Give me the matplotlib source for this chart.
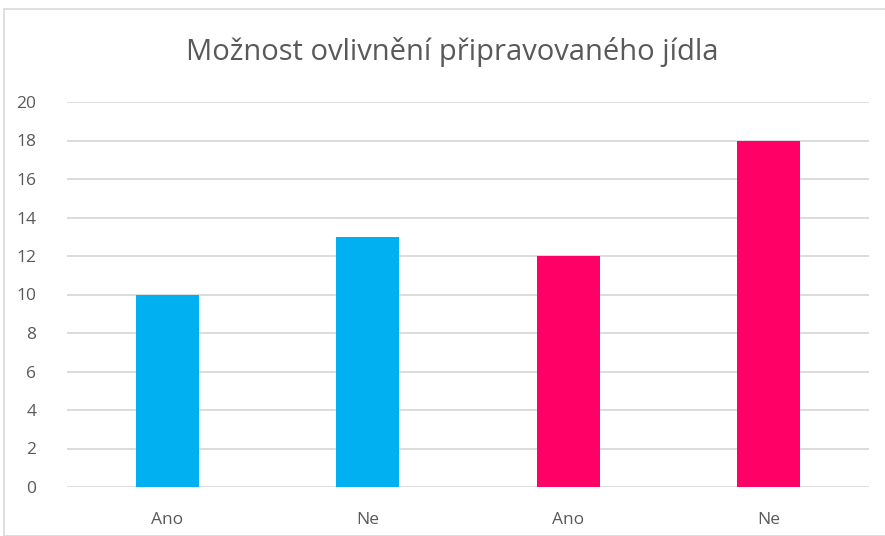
import matplotlib.pyplot as plt
from matplotlib.patches import Rectangle

kategorie = ['Ano', 'Ne', 'Ano', 'Ne']
hodnoty = [10, 13, 12, 18]
barvy = ['#00B0F0', '#00B0F0', '#FF0066', '#FF0066']
yticky = list(range(0, 21, 2))

W, H = 885, 536
fig = plt.figure(figsize=(W / 100, H / 100), dpi=100)
plt.rcParams['font.family'] = ['Open Sans', 'DejaVu Sans']

# ramecek grafu
fig.patches.append(Rectangle((4 / W, 0), (W + 10) / W, (H - 9) / H, transform=fig.transFigure,
                             fill=False, edgecolor='#D9D9D9', linewidth=1.2))

ax = fig.add_axes([67 / W, (H - 487) / H, (869 - 67) / W, (487 - 102) / H])
x = range(len(kategorie))
ax.bar(x, hodnoty, width=0.315, color=barvy, zorder=3)

ax.set_xlim(-0.5, len(kategorie) - 0.5)
ax.set_ylim(0, 20)
ax.set_yticks(yticky)
ax.set_xticks(list(x))
ax.set_xticklabels(kategorie)
ax.grid(axis='y', color='#D9D9D9', linewidth=1.3, zorder=0)
ax.set_axisbelow(True)
for s in ax.spines.values():
    s.set_visible(False)
ax.tick_params(axis='both', length=0, labelsize=12.5, labelcolor='#595959')
ax.tick_params(axis='y', pad=22)
ax.tick_params(axis='x', pad=18)

fig.text(452 / W, 1 - 52 / H, 'Možnost ovlivnění připravovaného jídla', ha='center', va='center',
         fontsize=21, color='#595959')

fig.savefig('out.png', dpi=100)
